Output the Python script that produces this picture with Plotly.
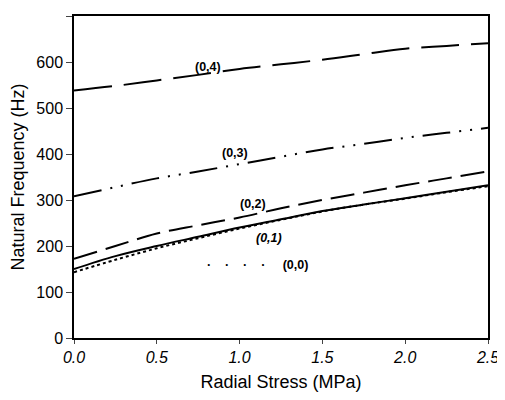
import plotly.graph_objects as go

stress = [0, 0.25, 0.5, 0.75, 1.0, 1.25, 1.5, 1.75, 2.0, 2.25, 2.5]
f04 = [538, 548, 560, 572, 585, 595, 605, 617, 629, 635, 641]
f03 = [308, 328, 347, 362, 378, 394, 410, 422, 435, 446, 457]
f02 = [172, 200, 227, 245, 262, 282, 300, 316, 332, 347, 362]
f01 = [150, 178, 200, 220, 240, 258, 276, 290, 304, 318, 332]
f00 = [143, 170, 195, 217, 238, 257, 275, 290, 303, 317, 330]

x_ticks = [0.0, 0.5, 1.0, 1.5, 2.0, 2.5]
x_ticklabels = ["<i>0.0</i>", "<i>0.5</i>", "<i>1.0</i>", "<i>1.5</i>", "<i>2.0</i>", "<i>2.5</i>"]
y_ticks = [0, 100, 200, 300, 400, 500, 600, 700]

labels = ["(0,4)", "(0,3)", "(0,2)", "<i>(0,1)</i>", "·    ·    ·    ·     (0,0)"]
label_x = [0.81, 0.97, 1.08, 1.18, 1.11]
label_y = [590, 402, 292, 218, 158]

fig = go.Figure()
series = [
    (f04, "38px,12px"),
    (f03, "28px,9px,2px,9px,2px,9px"),
    (f02, "24px,9px"),
    (f01, "solid"),
    (f00, "dot"),
]
for ys, dash in series:
    fig.add_trace(go.Scatter(x=stress, y=ys, mode="lines", line=dict(color="black", width=2, dash=dash),
                             showlegend=False, line_shape="spline"))

for t, xx, yy in zip(labels, label_x, label_y):
    fig.add_annotation(x=xx, y=yy, text="<b>" + t + "</b>", showarrow=False,
                       font=dict(family="Liberation Sans", size=12.5, color="black"))

# page body has an 8px default margin, so the figure is sized to fit the 505x400 window
fig.update_layout(
    width=497, height=392,
    margin=dict(l=66, r=12, t=6, b=62),
    plot_bgcolor="white", paper_bgcolor="white",
    font=dict(family="Liberation Sans", color="black", size=16),
    xaxis=dict(range=[0, 2.5], tickvals=x_ticks, ticktext=x_ticklabels, showgrid=False, zeroline=False,
               showline=True, linecolor="black", linewidth=1.5, mirror=True, ticks="outside", ticklen=4,
               title=dict(text="Radial Stress (MPa)", font=dict(size=18), standoff=10),
               tickfont=dict(size=16)),
    yaxis=dict(range=[0, 700], tickvals=y_ticks, showgrid=False, zeroline=False,
               showline=True, linecolor="black", linewidth=1.5, mirror=True, ticks="outside", ticklen=6,
               title=dict(text="Natural Frequency (Hz)", font=dict(size=18), standoff=8),
               tickfont=dict(size=16)),
)
fig.write_html("out.html")
